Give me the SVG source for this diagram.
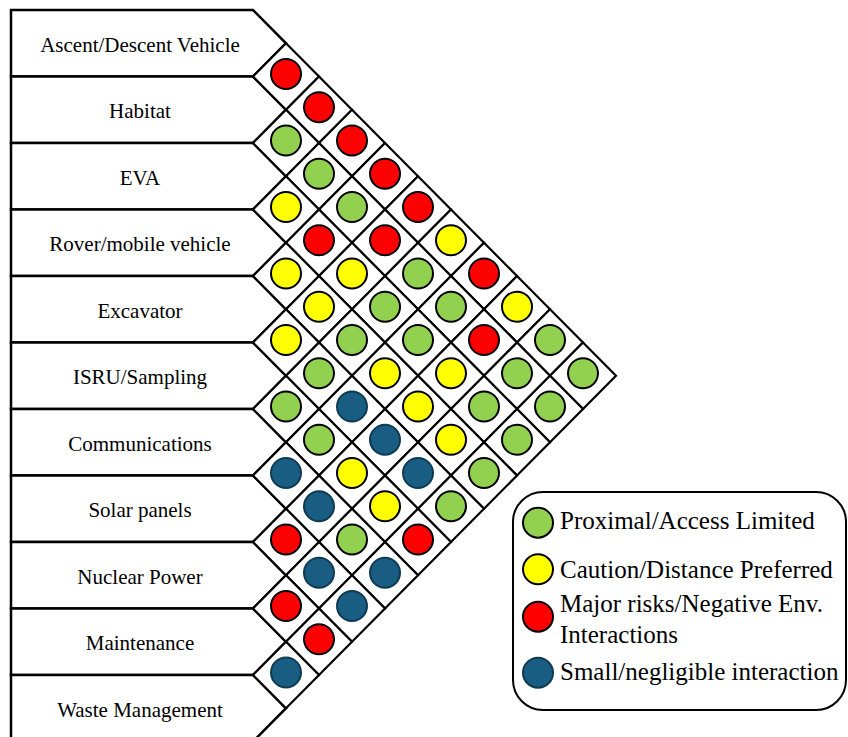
<svg xmlns="http://www.w3.org/2000/svg" xmlns:xlink="http://www.w3.org/1999/xlink" width="848" height="737" viewBox="0 0 848 737">
<style>
.lbl polygon{fill:#fff;stroke:#000;stroke-width:2.5;stroke-linejoin:miter}
.lbl text{font-family:"Liberation Serif","Times New Roman",serif;font-size:21px;fill:#000;text-anchor:middle}
.cell{fill:#fff;stroke:#000;stroke-width:2.2}
circle{stroke:#000;stroke-width:2}
.r{fill:#FF0000}.g{fill:#92D050}.y{fill:#FFFF00}.b{fill:#195E82;stroke:#0E3A52}
.leg text{font-family:"Liberation Serif","Times New Roman",serif;font-size:25px;fill:#000}
</style>
<defs>
<path id="cell" class="cell" d="M0,-33.25 L33,0 L0,33.25 L-33,0 Z"/>
</defs>
<rect width="848" height="737" fill="#fff"/>
<g id="labels">
<g id="n0" class="lbl"><polygon points="11,10 253,10 286,43.25 253,76.5 11,76.5"/><text x="140" y="51.75">Ascent/Descent Vehicle</text></g>
<g id="n1" class="lbl"><polygon points="11,76.5 253,76.5 286,109.75 253,143 11,143"/><text x="140" y="118.25">Habitat</text></g>
<g id="n2" class="lbl"><polygon points="11,143 253,143 286,176.25 253,209.5 11,209.5"/><text x="140" y="184.75">EVA</text></g>
<g id="n3" class="lbl"><polygon points="11,209.5 253,209.5 286,242.75 253,276 11,276"/><text x="140" y="251.25">Rover/mobile vehicle</text></g>
<g id="n4" class="lbl"><polygon points="11,276 253,276 286,309.25 253,342.5 11,342.5"/><text x="140" y="317.75">Excavator</text></g>
<g id="n5" class="lbl"><polygon points="11,342.5 253,342.5 286,375.75 253,409 11,409"/><text x="140" y="384.25">ISRU/Sampling</text></g>
<g id="n6" class="lbl"><polygon points="11,409 253,409 286,442.25 253,475.5 11,475.5"/><text x="140" y="450.75">Communications</text></g>
<g id="n7" class="lbl"><polygon points="11,475.5 253,475.5 286,508.75 253,542 11,542"/><text x="140" y="517.25">Solar panels</text></g>
<g id="n8" class="lbl"><polygon points="11,542 253,542 286,575.25 253,608.5 11,608.5"/><text x="140" y="583.75">Nuclear Power</text></g>
<g id="n9" class="lbl"><polygon points="11,608.5 253,608.5 286,641.75 253,675 11,675"/><text x="140" y="650.25">Maintenance</text></g>
<g id="n10" class="lbl"><polygon points="11,675 253,675 286,708.25 253,741.5 11,741.5"/><text x="140" y="716.75">Waste Management</text></g>
</g>
<g id="matrix">
<g id="c0-1" transform="translate(286,76.5)"><use xlink:href="#cell"/><circle class="r" cy="-2.5" r="15"/></g>
<g id="c0-2" transform="translate(319,109.75)"><use xlink:href="#cell"/><circle class="r" cy="-2.5" r="15"/></g>
<g id="c0-3" transform="translate(352,143)"><use xlink:href="#cell"/><circle class="r" cy="-2.5" r="15"/></g>
<g id="c0-4" transform="translate(385,176.25)"><use xlink:href="#cell"/><circle class="r" cy="-2.5" r="15"/></g>
<g id="c0-5" transform="translate(418,209.5)"><use xlink:href="#cell"/><circle class="r" cy="-2.5" r="15"/></g>
<g id="c0-6" transform="translate(451,242.75)"><use xlink:href="#cell"/><circle class="y" cy="-2.5" r="15"/></g>
<g id="c0-7" transform="translate(484,276)"><use xlink:href="#cell"/><circle class="r" cy="-2.5" r="15"/></g>
<g id="c0-8" transform="translate(517,309.25)"><use xlink:href="#cell"/><circle class="y" cy="-2.5" r="15"/></g>
<g id="c0-9" transform="translate(550,342.5)"><use xlink:href="#cell"/><circle class="g" cy="-2.5" r="15"/></g>
<g id="c0-10" transform="translate(583,375.75)"><use xlink:href="#cell"/><circle class="g" cy="-2.5" r="15"/></g>
<g id="c1-2" transform="translate(286,143)"><use xlink:href="#cell"/><circle class="g" cy="-2.5" r="15"/></g>
<g id="c1-3" transform="translate(319,176.25)"><use xlink:href="#cell"/><circle class="g" cy="-2.5" r="15"/></g>
<g id="c1-4" transform="translate(352,209.5)"><use xlink:href="#cell"/><circle class="g" cy="-2.5" r="15"/></g>
<g id="c1-5" transform="translate(385,242.75)"><use xlink:href="#cell"/><circle class="r" cy="-2.5" r="15"/></g>
<g id="c1-6" transform="translate(418,276)"><use xlink:href="#cell"/><circle class="g" cy="-2.5" r="15"/></g>
<g id="c1-7" transform="translate(451,309.25)"><use xlink:href="#cell"/><circle class="g" cy="-2.5" r="15"/></g>
<g id="c1-8" transform="translate(484,342.5)"><use xlink:href="#cell"/><circle class="r" cy="-2.5" r="15"/></g>
<g id="c1-9" transform="translate(517,375.75)"><use xlink:href="#cell"/><circle class="g" cy="-2.5" r="15"/></g>
<g id="c1-10" transform="translate(550,409)"><use xlink:href="#cell"/><circle class="g" cy="-2.5" r="15"/></g>
<g id="c2-3" transform="translate(286,209.5)"><use xlink:href="#cell"/><circle class="y" cy="-2.5" r="15"/></g>
<g id="c2-4" transform="translate(319,242.75)"><use xlink:href="#cell"/><circle class="r" cy="-2.5" r="15"/></g>
<g id="c2-5" transform="translate(352,276)"><use xlink:href="#cell"/><circle class="y" cy="-2.5" r="15"/></g>
<g id="c2-6" transform="translate(385,309.25)"><use xlink:href="#cell"/><circle class="g" cy="-2.5" r="15"/></g>
<g id="c2-7" transform="translate(418,342.5)"><use xlink:href="#cell"/><circle class="g" cy="-2.5" r="15"/></g>
<g id="c2-8" transform="translate(451,375.75)"><use xlink:href="#cell"/><circle class="y" cy="-2.5" r="15"/></g>
<g id="c2-9" transform="translate(484,409)"><use xlink:href="#cell"/><circle class="g" cy="-2.5" r="15"/></g>
<g id="c2-10" transform="translate(517,442.25)"><use xlink:href="#cell"/><circle class="g" cy="-2.5" r="15"/></g>
<g id="c3-4" transform="translate(286,276)"><use xlink:href="#cell"/><circle class="y" cy="-2.5" r="15"/></g>
<g id="c3-5" transform="translate(319,309.25)"><use xlink:href="#cell"/><circle class="y" cy="-2.5" r="15"/></g>
<g id="c3-6" transform="translate(352,342.5)"><use xlink:href="#cell"/><circle class="g" cy="-2.5" r="15"/></g>
<g id="c3-7" transform="translate(385,375.75)"><use xlink:href="#cell"/><circle class="y" cy="-2.5" r="15"/></g>
<g id="c3-8" transform="translate(418,409)"><use xlink:href="#cell"/><circle class="y" cy="-2.5" r="15"/></g>
<g id="c3-9" transform="translate(451,442.25)"><use xlink:href="#cell"/><circle class="y" cy="-2.5" r="15"/></g>
<g id="c3-10" transform="translate(484,475.5)"><use xlink:href="#cell"/><circle class="g" cy="-2.5" r="15"/></g>
<g id="c4-5" transform="translate(286,342.5)"><use xlink:href="#cell"/><circle class="y" cy="-2.5" r="15"/></g>
<g id="c4-6" transform="translate(319,375.75)"><use xlink:href="#cell"/><circle class="g" cy="-2.5" r="15"/></g>
<g id="c4-7" transform="translate(352,409)"><use xlink:href="#cell"/><circle class="b" cy="-2.5" r="15"/></g>
<g id="c4-8" transform="translate(385,442.25)"><use xlink:href="#cell"/><circle class="b" cy="-2.5" r="15"/></g>
<g id="c4-9" transform="translate(418,475.5)"><use xlink:href="#cell"/><circle class="b" cy="-2.5" r="15"/></g>
<g id="c4-10" transform="translate(451,508.75)"><use xlink:href="#cell"/><circle class="g" cy="-2.5" r="15"/></g>
<g id="c5-6" transform="translate(286,409)"><use xlink:href="#cell"/><circle class="g" cy="-2.5" r="15"/></g>
<g id="c5-7" transform="translate(319,442.25)"><use xlink:href="#cell"/><circle class="g" cy="-2.5" r="15"/></g>
<g id="c5-8" transform="translate(352,475.5)"><use xlink:href="#cell"/><circle class="y" cy="-2.5" r="15"/></g>
<g id="c5-9" transform="translate(385,508.75)"><use xlink:href="#cell"/><circle class="y" cy="-2.5" r="15"/></g>
<g id="c5-10" transform="translate(418,542)"><use xlink:href="#cell"/><circle class="r" cy="-2.5" r="15"/></g>
<g id="c6-7" transform="translate(286,475.5)"><use xlink:href="#cell"/><circle class="b" cy="-2.5" r="15"/></g>
<g id="c6-8" transform="translate(319,508.75)"><use xlink:href="#cell"/><circle class="b" cy="-2.5" r="15"/></g>
<g id="c6-9" transform="translate(352,542)"><use xlink:href="#cell"/><circle class="g" cy="-2.5" r="15"/></g>
<g id="c6-10" transform="translate(385,575.25)"><use xlink:href="#cell"/><circle class="b" cy="-2.5" r="15"/></g>
<g id="c7-8" transform="translate(286,542)"><use xlink:href="#cell"/><circle class="r" cy="-2.5" r="15"/></g>
<g id="c7-9" transform="translate(319,575.25)"><use xlink:href="#cell"/><circle class="b" cy="-2.5" r="15"/></g>
<g id="c7-10" transform="translate(352,608.5)"><use xlink:href="#cell"/><circle class="b" cy="-2.5" r="15"/></g>
<g id="c8-9" transform="translate(286,608.5)"><use xlink:href="#cell"/><circle class="r" cy="-2.5" r="15"/></g>
<g id="c8-10" transform="translate(319,641.75)"><use xlink:href="#cell"/><circle class="r" cy="-2.5" r="15"/></g>
<g id="c9-10" transform="translate(286,675)"><use xlink:href="#cell"/><circle class="b" cy="-2.5" r="15"/></g>
</g>
<g id="legend" class="leg">
<rect x="513" y="492" width="333" height="218" rx="30" ry="30" fill="#fff" stroke="#000" stroke-width="2"/>
<circle class="g" cx="538" cy="522.7" r="15"/>
<circle class="y" cx="538" cy="569.3" r="15"/>
<circle class="r" cx="538" cy="616.7" r="15"/>
<circle class="b" cx="538" cy="672.7" r="15"/>
<text x="560" y="529">Proximal/Access Limited</text>
<text x="560" y="578">Caution/Distance Preferred</text>
<text x="560" y="612">Major risks/Negative Env.</text>
<text x="560" y="643">Interactions</text>
<text x="560" y="680">Small/negligible interaction</text>
</g>
</svg>
